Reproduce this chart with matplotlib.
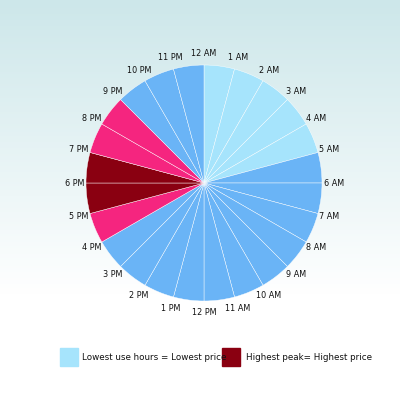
import matplotlib
matplotlib.use("Agg")
import matplotlib.pyplot as plt
import numpy as np
from matplotlib.colors import LinearSegmentedColormap
from matplotlib.patches import Rectangle

hours = ["12 AM","1 AM","2 AM","3 AM","4 AM","5 AM","6 AM","7 AM","8 AM","9 AM","10 AM","11 AM",
         "12 PM","1 PM","2 PM","3 PM","4 PM","5 PM","6 PM","7 PM","8 PM","9 PM","10 PM","11 PM"]
values = [1]*24
levels = ["low"]*5 + ["mid"]*11 + ["high"] + ["peak"]*2 + ["high"]*2 + ["mid"]*3
palette = {"low":"#a6e4fc","mid":"#6ab4f6","high":"#f5257f","peak":"#8a0011"}
legend_labels = ["Lowest use hours = Lowest price","Highest peak= Highest price"]

plt.rcParams['font.family'] = ['DejaVu Sans']
fig = plt.figure(figsize=(4,4), dpi=100)
bg = fig.add_axes([0,0,1,1]); bg.axis('off')
grad = np.linspace(0,1,200).reshape(-1,1)
cm = LinearSegmentedColormap.from_list('g',['#cde7ea','#ffffff'])
bg.imshow(np.clip(grad*1.35,0,1), aspect='auto', cmap=cm, extent=[0,1,0,1], origin='upper')
bg.set_xlim(0,1); bg.set_ylim(0,1)

ax = fig.add_axes([0.215,0.2475,0.59,0.59])
ax.pie(values, colors=[palette[l] for l in levels], startangle=90, counterclock=False,
       wedgeprops=dict(edgecolor='#ffffff', linewidth=0.3, alpha=1))
ax.set_aspect('equal')
for i,h in enumerate(hours):
    a = np.deg2rad(90 - 15*i)
    ax.text(1.1*np.cos(a), 1.1*np.sin(a), h, ha='center', va='center', fontsize=6.5,
            color='#111111', fontstretch='condensed')
ax.set_xlim(-1,1); ax.set_ylim(-1,1)

for (x0, tx, col, lab) in [(60/400,82/400,palette["low"],legend_labels[0]),(222/400,246/400,palette["peak"],legend_labels[1])]:
    bg.add_patch(Rectangle((x0, 1-366/400), 18/400, 18/400, color=col))
    bg.text(tx, 1-357/400, lab, va='center', ha='left', fontsize=6.3, color='#111111')
fig.savefig("out.png", dpi=100)
